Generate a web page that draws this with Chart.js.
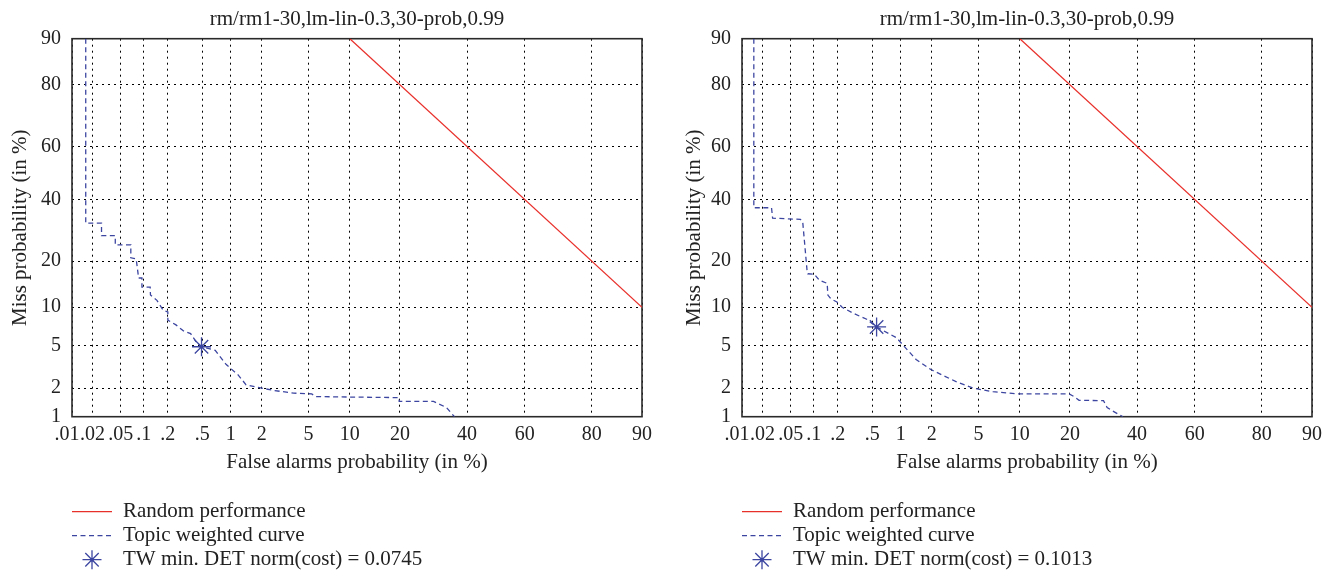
<!DOCTYPE html>
<html lang="en">
<head>
<meta charset="UTF-8">
<title>DET curves</title>
<script src="https://cdn.jsdelivr.net/npm/chart.js"></script>
<style>
  body { margin: 0; background: #fff; width: 1328px; height: 571px; overflow: hidden; position: relative; }
  .panel { position: absolute; top: 0; width: 658px; height: 571px; }
</style>
</head>
<body>
<div class="panel" style="left:0"><canvas id="detLeft" width="658" height="571"></canvas></div>
<div class="panel" style="left:670px"><canvas id="detRight" width="658" height="571"></canvas></div>
<script>
// tick positions (in %) and their labels
const xTickPct = [0.01, 0.02, 0.05, 0.1, 0.2, 0.5, 1, 2, 5, 10, 20, 40, 60, 80, 90];
const xTickLabels = ['.01', '.02', '.05', '.1', '.2', '.5', '1', '2', '5', '10', '20', '40', '60', '80', '90'];
const yTickPct = [1, 2, 5, 10, 20, 40, 60, 80, 90];
const yTickLabels = ['1', '2', '5', '10', '20', '40', '60', '80', '90'];

// random performance line (false alarm %, miss %)
const randomFA = [10, 90];
const randomMiss = [90, 10];

// left panel: topic weighted curve
const leftFA = [0.016, 0.016, 0.027, 0.027, 0.042, 0.042, 0.068, 0.068, 0.080, 0.084, 0.086, 0.095, 0.095, 0.121, 0.122, 0.147, 0.176, 0.2, 0.2, 0.25, 0.31, 0.37, 0.43, 0.49, 0.69, 0.90, 1.18, 1.42, 2.0, 2.6, 3.8, 5.3, 5.7, 19.8, 19.8, 29.2, 33.2, 35.8];
const leftMiss = [90, 31.6, 31.6, 27.5, 27.5, 24.6, 24.6, 20.9, 20.6, 17.3, 15.8, 15.8, 13.8, 13.8, 12.2, 11.2, 9.5, 9.25, 8.0, 7.35, 6.53, 6.26, 5.3, 4.86, 4.52, 3.37, 2.71, 2.16, 2.0, 1.89, 1.78, 1.75, 1.64, 1.60, 1.46, 1.46, 1.26, 1.0];
const leftMinFA = [0.49];
const leftMinMiss = [4.86];

// right panel: topic weighted curve
const rightFA = [0.015, 0.015, 0.027, 0.028, 0.067, 0.072, 0.082, 0.084, 0.102, 0.118, 0.148, 0.151, 0.164, 0.195, 0.225, 0.307, 0.433, 0.557, 0.904, 1.06, 1.42, 1.96, 3.25, 4.53, 6.44, 9.6, 19.8, 21.0, 22.3, 29.2, 30.3, 32.1, 35.3];
const rightMiss = [90, 37.0, 37.0, 33.3, 32.9, 32.1, 17.7, 16.8, 16.7, 15.3, 14.6, 12.2, 11.5, 10.9, 10.0, 9.0, 8.13, 7.08, 5.79, 5.0, 3.75, 3.03, 2.33, 2.0, 1.84, 1.75, 1.75, 1.64, 1.50, 1.49, 1.26, 1.15, 1.0];
const rightMinFA = [0.557];
const rightMinMiss = [7.08];

const RED = '#e8302b';
const BLUE = '#3c46a0';
const FONT = '"Liberation Serif", "DejaVu Serif", serif';

// inverse of the normal CDF (Acklam), used for the DET (normal deviate) axes
function probit(p) {
  const a = [-3.969683028665376e+01, 2.209460984245205e+02, -2.759285104469687e+02, 1.383577518672690e+02, -3.066479806614716e+01, 2.506628277459239e+00];
  const b = [-5.447609879822406e+01, 1.615858368580409e+02, -1.556989798598866e+02, 6.680131188771972e+01, -1.328068155288572e+01];
  const c = [-7.784894002430293e-03, -3.223964580411365e-01, -2.400758277161838e+00, -2.549732539343734e+00, 4.374664141464968e+00, 2.938163982698783e+00];
  const d = [7.784695709041462e-03, 3.224671290700398e-01, 2.445134137142996e+00, 3.754408661907416e+00];
  const pl = 0.02425;
  let q, r;
  if (p < pl) {
    q = Math.sqrt(-2 * Math.log(p));
    return (((((c[0]*q+c[1])*q+c[2])*q+c[3])*q+c[4])*q+c[5]) / ((((d[0]*q+d[1])*q+d[2])*q+d[3])*q+1);
  }
  if (p <= 1 - pl) {
    q = p - 0.5; r = q * q;
    return (((((a[0]*r+a[1])*r+a[2])*r+a[3])*r+a[4])*r+a[5])*q / (((((b[0]*r+b[1])*r+b[2])*r+b[3])*r+b[4])*r+1);
  }
  q = Math.sqrt(-2 * Math.log(1 - p));
  return -(((((c[0]*q+c[1])*q+c[2])*q+c[3])*q+c[4])*q+c[5]) / ((((d[0]*q+d[1])*q+d[2])*q+d[3])*q+1);
}

function toPoints(fa, miss) {
  return fa.map((f, i) => ({ x: probit(f / 100), y: probit(miss[i] / 100) }));
}

Chart.defaults.font.family = FONT;
Chart.defaults.font.size = 20;
Chart.defaults.color = '#222';

// full box around the plot
const boxPlugin = {
  id: 'detBox',
  beforeDatasetsDraw(chart) {
    const { ctx, chartArea: a } = chart;
    ctx.save();
    ctx.strokeStyle = '#2a2a2a';
    ctx.lineWidth = 1.6;
    ctx.strokeRect(a.left, a.top, a.right - a.left, a.bottom - a.top);
    ctx.restore();
  }
};

// legend stacked under the x axis title
const legendPlugin = {
  id: 'detLegend',
  afterDraw(chart) {
    const ctx = chart.ctx;
    const base = chart.scales.x.bottom;
    const rows = [31, 55, 79];
    chart.data.datasets.forEach((ds, i) => {
      const y = base + rows[i];
      ctx.save();
      if (ds.showLine) {
        ctx.strokeStyle = ds.borderColor;
        ctx.lineWidth = ds.borderWidth;
        ctx.setLineDash(ds.borderDash || []);
        ctx.beginPath();
        ctx.moveTo(72, y);
        ctx.lineTo(112, y);
        ctx.stroke();
      } else {
        ctx.strokeStyle = ds.pointBorderColor;
        ctx.fillStyle = ds.pointBorderColor;
        ctx.lineWidth = ds.pointBorderWidth;
        Chart.helpers.drawPoint(ctx, { pointStyle: ds.pointStyle, radius: ds.pointRadius, borderWidth: ds.pointBorderWidth, rotation: 0 }, 92, y);
        ctx.beginPath();
        ctx.arc(92, y, 1.8, 0, Math.PI * 2);
        ctx.fill();
      }
      ctx.setLineDash([]);
      ctx.fillStyle = '#222';
      ctx.font = '21px ' + FONT;
      ctx.textBaseline = 'middle';
      ctx.textAlign = 'left';
      ctx.fillText(ds.label, 123, y);
      ctx.restore();
    });
  }
};

function makePanel(id, fa, miss, minFA, minMiss, cost, yTitlePad) {
  const gridStyle = { color: '#000', lineWidth: 1, drawTicks: false };
  new Chart(document.getElementById(id), {
    type: 'scatter',
    data: {
      datasets: [
        {
          label: 'Random performance',
          data: toPoints(randomFA, randomMiss),
          showLine: true,
          borderColor: RED,
          borderWidth: 1.2,
          pointRadius: 0
        },
        {
          label: 'Topic weighted curve',
          data: toPoints(fa, miss),
          showLine: true,
          borderColor: BLUE,
          borderWidth: 1.3,
          borderDash: [5, 3.5],
          pointRadius: 0,
          tension: 0
        },
        {
          label: 'TW min. DET norm(cost) = ' + cost,
          data: toPoints(minFA, minMiss),
          showLine: false,
          pointStyle: 'star',
          pointRadius: 9.5,
          pointBorderColor: BLUE,
          pointBackgroundColor: BLUE,
          pointBorderWidth: 1.3
        }
      ]
    },
    options: {
      responsive: false,
      animation: false,
      layout: { padding: { left: 0, right: 13, top: 0, bottom: 90.3 } },
      plugins: {
        legend: { display: false },
        tooltip: { enabled: false },
        title: {
          display: true,
          text: 'rm/rm1-30,lm-lin-0.3,30-prob,0.99',
          fullSize: false,
          font: { size: 21, weight: 'normal' },
          color: '#222',
          padding: { top: 6.5, bottom: 7 }
        }
      },
      scales: {
        x: {
          type: 'linear',
          min: probit(xTickPct[0] / 100),
          max: probit(xTickPct[xTickPct.length - 1] / 100),
          afterBuildTicks: s => { s.ticks = xTickPct.map(p => ({ value: probit(p / 100) })); },
          afterFit: s => { s.height = 64; },
          // first label nudged left so it does not run into ".02"
          ticks: { autoSkip: false, maxRotation: 0, padding: 6, callback: (v, i) => i === 0 ? xTickLabels[i] + '\u2002' : xTickLabels[i] },
          grid: gridStyle,
          border: { display: false, dash: [2, 4] },
          title: { display: true, text: 'False alarms probability (in %)', font: { size: 21 }, padding: { top: 0, bottom: 6.1 } }
        },
        y: {
          type: 'linear',
          min: probit(yTickPct[0] / 100),
          max: probit(yTickPct[yTickPct.length - 1] / 100),
          afterBuildTicks: s => { s.ticks = yTickPct.map(p => ({ value: probit(p / 100) })); },
          afterFit: s => { s.width = 72; },
          ticks: { autoSkip: false, padding: 11, callback: (v, i) => yTickLabels[i] },
          grid: gridStyle,
          border: { display: false, dash: [2, 4] },
          title: { display: true, text: 'Miss probability (in %)', font: { size: 21 }, padding: { top: yTitlePad, bottom: 0 } }
        }
      }
    },
    plugins: [boxPlugin, legendPlugin]
  });
}

makePanel('detLeft', leftFA, leftMiss, leftMinFA, leftMinMiss, '0.0745', 7.9);
makePanel('detRight', rightFA, rightMiss, rightMinFA, rightMinMiss, '0.1013', 11.4);
</script>
</body>
</html>
